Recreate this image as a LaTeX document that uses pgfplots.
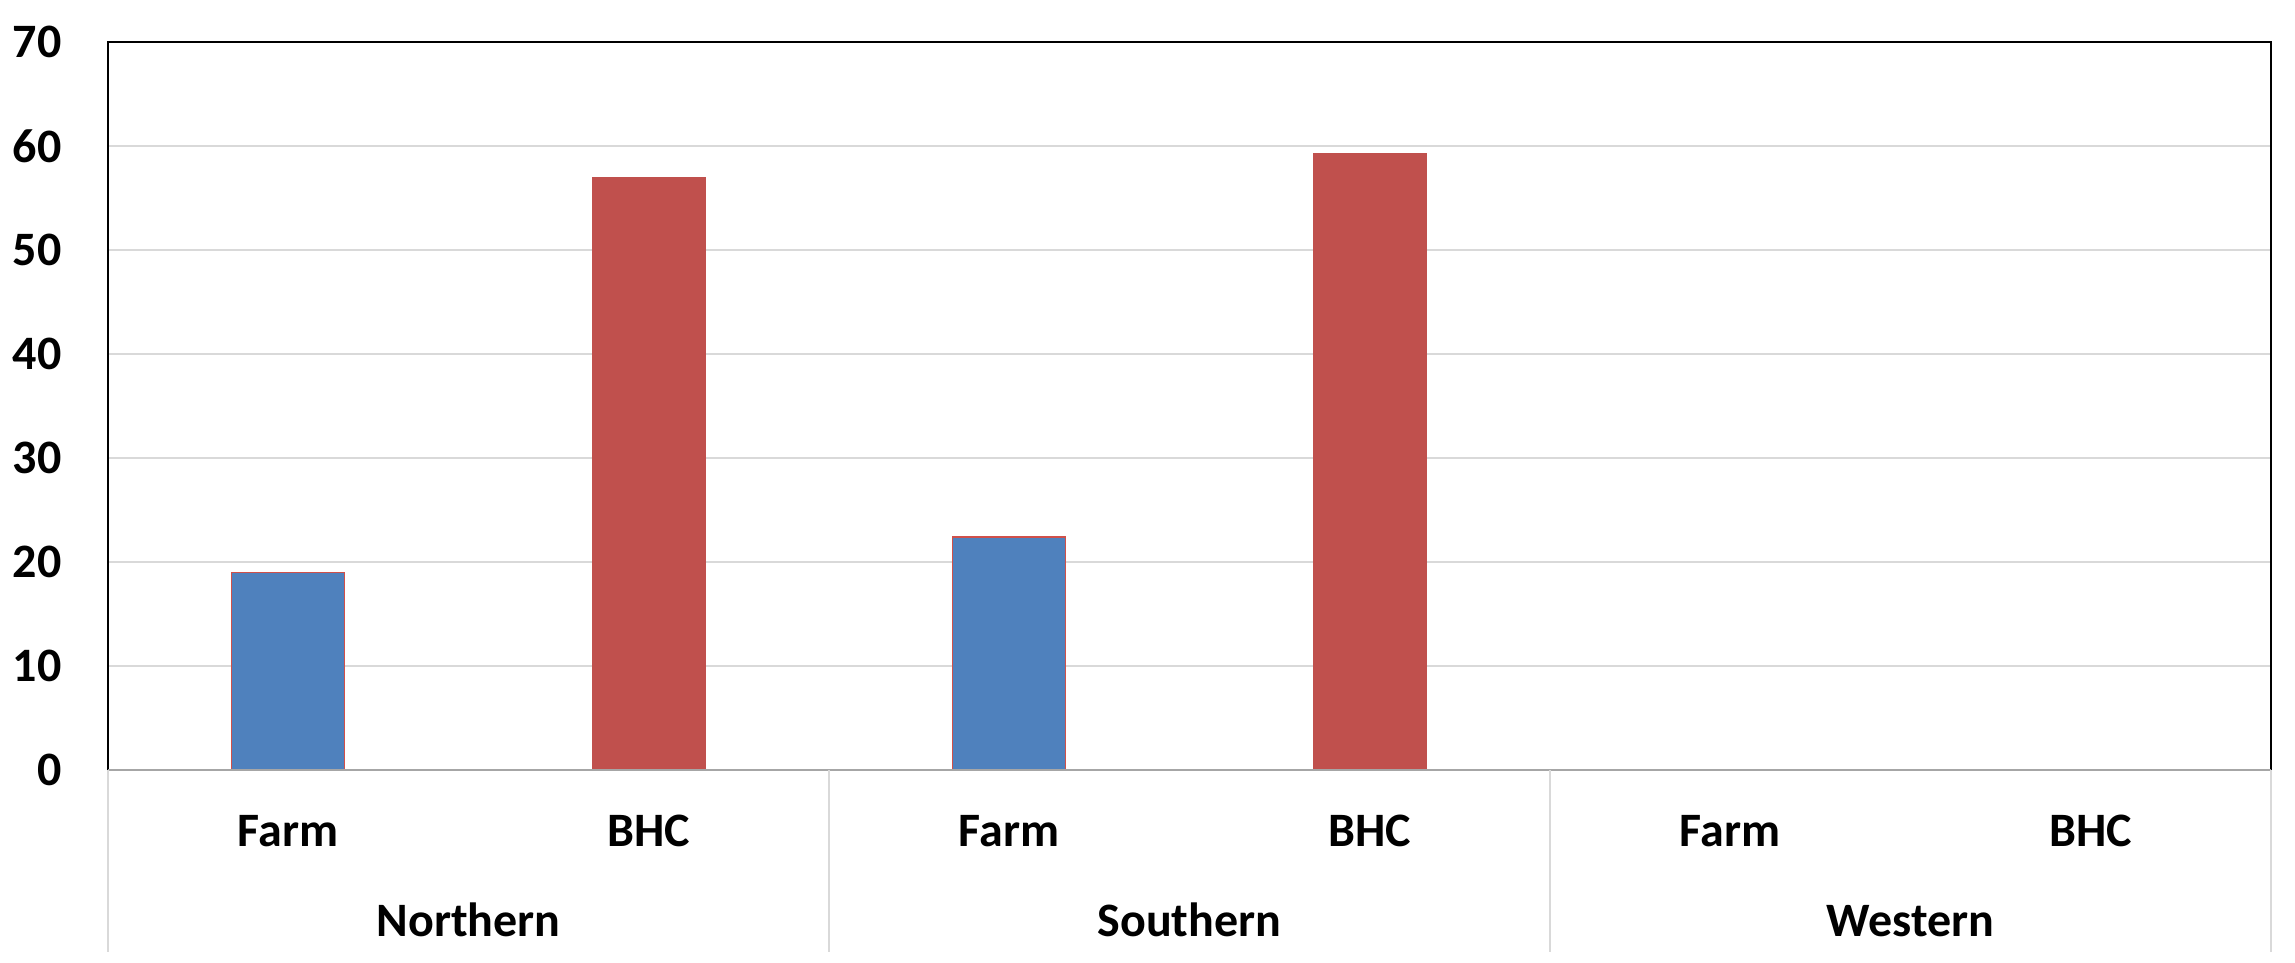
\documentclass[border=0pt]{standalone}
\usepackage{pgfplots}
\pgfplotsset{compat=1.18}
\usepackage{fontspec}
\setmainfont{Carlito}

\definecolor{farmblue}{HTML}{4F81BD}
\definecolor{bhcred}{HTML}{C0504D}
\definecolor{edgered}{HTML}{D0504A}
\definecolor{gridgray}{HTML}{D9D9D9}
\definecolor{basegray}{HTML}{A6A6A6}

\newcommand{\lbl}{\fontsize{14.4}{17}\selectfont\bfseries}

\begin{document}
\begin{tikzpicture}
\useasboundingbox (-32.4pt,-57.9pt) rectangle (656.1pt,231pt);
\begin{axis}[
  at={(0pt,0pt)}, anchor=south west,
  scale only axis,
  width=648.9pt, height=218.4pt,
  xmin=-0.5, xmax=5.5,
  ymin=0, ymax=70,
  ytick={0,10,...,70},
  xtick={0,...,5},
  xticklabels={Farm,BHC,Farm,BHC,Farm,BHC},
  major tick length=0pt,
  axis line style={draw=none},
  ymajorgrids,
  grid style={gridgray, line width=0.45pt},
  /pgf/number format/assume math mode=true,
  yticklabel style={font=\lbl, anchor=east, inner sep=0pt, xshift=-13.8pt},
  xticklabel style={font=\lbl, anchor=base, inner sep=0pt, yshift=-23.1pt},
  clip=false,
  ybar, bar width=0.313,
]
% Farm counts
\addplot[bar shift=0pt, fill=farmblue, draw=edgered, line width=0.35pt]
  coordinates {(0,19.0) (2,22.4)};
% BHC counts
\addplot[bar shift=0pt, fill=bhcred, draw=bhcred, line width=0.3pt]
  coordinates {(1,57.0) (3,59.3)};

% plot frame
\draw[black, line width=0.5pt] (rel axis cs:0,0) -- (rel axis cs:0,1)
  -- (rel axis cs:1,1) -- (rel axis cs:1,0);
\draw[basegray, line width=0.6pt] (rel axis cs:0,0) -- (rel axis cs:1,0);

% region separators below the axis
\pgfplotsinvokeforeach{-0.5,1.5,3.5,5.5}{
  \draw[gridgray, line width=0.45pt] (axis cs:#1,0) -- ([yshift=-54.6pt]axis cs:#1,0);
}

% region names
\node[font=\lbl, anchor=base, inner sep=0pt] at ([yshift=-50.1pt]axis cs:0.5,0) {Northern};
\node[font=\lbl, anchor=base, inner sep=0pt] at ([yshift=-50.1pt]axis cs:2.5,0) {Southern};
\node[font=\lbl, anchor=base, inner sep=0pt] at ([yshift=-50.1pt]axis cs:4.5,0) {Western};
\end{axis}
\end{tikzpicture}
\end{document}
